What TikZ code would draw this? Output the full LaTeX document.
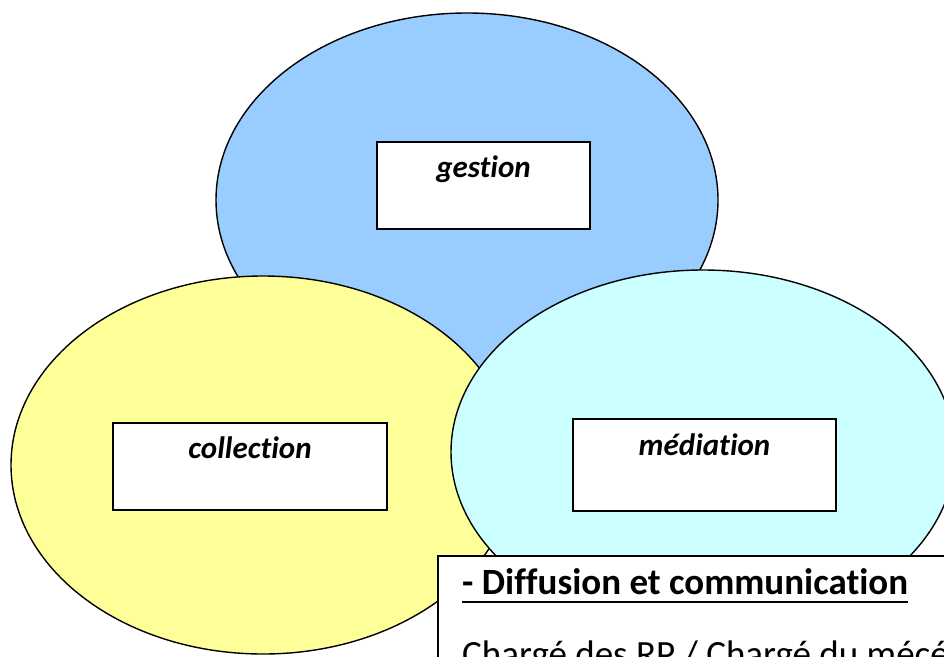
\documentclass[tikz,border=0pt]{standalone}
\usepackage{fontspec}
\setmainfont{Carlito}[Ligatures={NoCommon}]
\definecolor{gblue}{HTML}{99CCFF}
\definecolor{cyellow}{HTML}{FFFF99}
\definecolor{mcyan}{HTML}{CCFFFF}
\begin{document}
\begin{tikzpicture}[x=1pt,y=-1pt,
  blob/.style={draw=black,line width=1.4pt},
  labelbox/.style={draw=black,fill=white,line width=1.3pt},
  lbl/.style={font=\fontsize{31}{36}\selectfont\bfseries\itshape,anchor=base,inner sep=0pt},
  boxtext/.style={font=\fontsize{37}{42}\selectfont,anchor=base west,inner sep=0pt}]
\useasboundingbox (0,0) rectangle (944,656);
\clip (0,0) rectangle (944,656);
% ellipses
\draw[blob,fill=gblue] (467,200) ellipse [x radius=251, y radius=187];
\draw[blob,fill=cyellow] (263,465) ellipse [x radius=252, y radius=189];
\draw[blob,fill=mcyan] (703,452) ellipse [x radius=252, y radius=182];
% label boxes
\draw[labelbox] (377,142) rectangle (590,229);
\node[lbl] (gestion) at (483.5,177) {gestion};
\draw[labelbox] (113,423) rectangle (387,510);
\node[lbl] (collection) at (250,458) {collection};
\draw[labelbox] (573,419) rectangle (836,511);
\node[lbl] (mediation) at (704.5,455) {médiation};
% text box
\draw[labelbox,line width=1.1pt] (438,556) rectangle (1000,760);
\node[boxtext,font=\fontsize{37}{42}\selectfont\bfseries] (diff) at (462,594) {- Diffusion et communication};
\draw[line width=1.8pt] ([yshift=-8pt]diff.base west) -- ([yshift=-8pt]diff.base east);
\node[boxtext] (charge) at (462,666) {Chargé des RP / Chargé du mécénat};
\end{tikzpicture}
\end{document}
